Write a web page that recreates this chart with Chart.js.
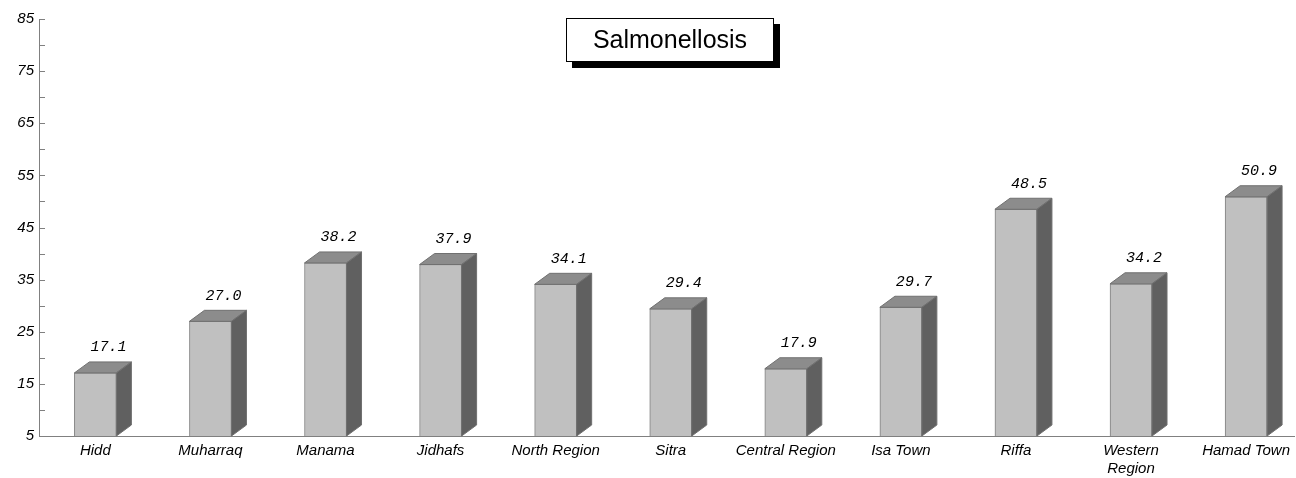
<!DOCTYPE html>
<html>
<head>
<title>Salmonellosis</title>
<style>
  html, body { margin: 0; padding: 0; background: #fff; }
  #wrap { width: 1296px; height: 478px; }
</style>
</head>
<body>
<div id="wrap"><canvas id="chart"></canvas></div>
<script src="https://cdn.jsdelivr.net/npm/chart.js@4/dist/chart.umd.min.js"></script>
<script>
var regions = ['Hidd', 'Muharraq', 'Manama', 'Jidhafs', 'North Region', 'Sitra',
               'Central Region', 'Isa Town', 'Riffa', ['Western', 'Region'], 'Hamad Town'];
var rates = [17.1, 27.0, 38.2, 37.9, 34.1, 29.4, 17.9, 29.7, 48.5, 34.2, 50.9];
var yMin = 5, yMax = 85;
var chartTitle = 'Salmonellosis';

var points = rates.map(function(v, i) { return { x: i, y: v }; });

// top and side faces of each bar, plus the value on top
var bars3d = {
    id: 'bars3d',
    afterDatasetsDraw: function(chart) {
        var ctx = chart.ctx;
        var meta = chart.getDatasetMeta(0);
        var dx = 15, dy = 11;
        ctx.save();
        meta.data.forEach(function(bar, i) {
            var left = bar.x - bar.width / 2, right = bar.x + bar.width / 2;
            var top = bar.y, base = Math.min(bar.base, chart.chartArea.bottom);
            ctx.lineWidth = 1;
            ctx.strokeStyle = '#707070';
            // top
            ctx.fillStyle = '#8c8c8c';
            ctx.beginPath();
            ctx.moveTo(left, top);
            ctx.lineTo(left + dx, top - dy);
            ctx.lineTo(right + dx, top - dy);
            ctx.lineTo(right, top);
            ctx.closePath();
            ctx.fill(); ctx.stroke();
            // side
            ctx.fillStyle = '#606060';
            ctx.beginPath();
            ctx.moveTo(right, top);
            ctx.lineTo(right + dx, top - dy);
            ctx.lineTo(right + dx, base - dy);
            ctx.lineTo(right, base);
            ctx.closePath();
            ctx.fill(); ctx.stroke();
            // value
            ctx.fillStyle = '#000';
            ctx.font = 'italic 15px "Liberation Mono", monospace';
            ctx.textAlign = 'center';
            ctx.textBaseline = 'bottom';
            ctx.fillText(rates[i].toFixed(1), bar.x + 13, top - dy - 7);
        });
        ctx.restore();
    }
};

// short tick marks on the inside of the y axis
var innerTicks = {
    id: 'innerTicks',
    afterDraw: function(chart) {
        var ctx = chart.ctx, y = chart.scales.y;
        ctx.save();
        ctx.strokeStyle = '#808080';
        ctx.lineWidth = 1;
        for (var v = yMin; v <= yMax; v += 5) {
            var py = Math.round(y.getPixelForValue(v)) + 0.5;
            ctx.beginPath();
            ctx.moveTo(y.right, py);
            ctx.lineTo(y.right + 6, py);
            ctx.stroke();
        }
        ctx.restore();
    }
};

// boxed title with a drop shadow
var titleBox = {
    id: 'titleBox',
    afterDraw: function(chart) {
        var ctx = chart.ctx;
        var x = 566, y = 18, w = 208, h = 44;
        ctx.save();
        ctx.fillStyle = '#000';
        ctx.fillRect(x + 6, y + 6, w, h);
        ctx.fillStyle = '#fff';
        ctx.fillRect(x, y, w, h);
        ctx.strokeStyle = '#000';
        ctx.lineWidth = 1;
        ctx.strokeRect(x + 0.5, y + 0.5, w - 1, h - 1);
        ctx.fillStyle = '#000';
        ctx.font = '25px "Liberation Sans", Arial, sans-serif';
        ctx.textAlign = 'center';
        ctx.textBaseline = 'middle';
        ctx.fillText(chartTitle, x + w / 2, y + h / 2 + 1);
        ctx.restore();
    }
};

var labelFont = { family: '"Liberation Sans", Arial, sans-serif', size: 15, style: 'italic' };

new Chart(document.getElementById('chart'), {
    type: 'bar',
    data: {
        datasets: [{
            data: points,
            backgroundColor: '#c0c0c0',
            borderColor: '#808080',
            borderWidth: 1,
            barThickness: 42
        }]
    },
    options: {
        responsive: true,
        maintainAspectRatio: false,
        animation: false,
        layout: { padding: { top: 19, right: 0, left: 0, bottom: 0 } },
        plugins: { legend: { display: false }, tooltip: { enabled: false } },
        scales: {
            x: {
                type: 'linear',
                offset: false,
                min: -0.49,
                max: 10.42,
                grid: { display: false, drawTicks: false, offset: false },
                border: { color: '#808080' },
                afterFit: function(s) { s.height = 42; },
                afterBuildTicks: function(s) {
                    s.ticks = regions.map(function(r, i) { return { value: i }; });
                },
                ticks: {
                    autoSkip: false,
                    maxRotation: 0,
                    padding: 6,
                    color: '#000',
                    font: labelFont,
                    callback: function(v) { return regions[v]; }
                }
            },
            y: {
                min: yMin,
                max: yMax,
                grid: { display: false, drawTicks: false },
                border: { color: '#808080' },
                afterFit: function(s) { s.width = 39; },
                ticks: {
                    stepSize: 5,
                    padding: 5,
                    color: '#000',
                    font: labelFont,
                    callback: function(v) { return (v - 5) % 10 === 0 ? v : ''; }
                }
            }
        }
    },
    plugins: [bars3d, innerTicks, titleBox]
});
</script>
</body>
</html>
